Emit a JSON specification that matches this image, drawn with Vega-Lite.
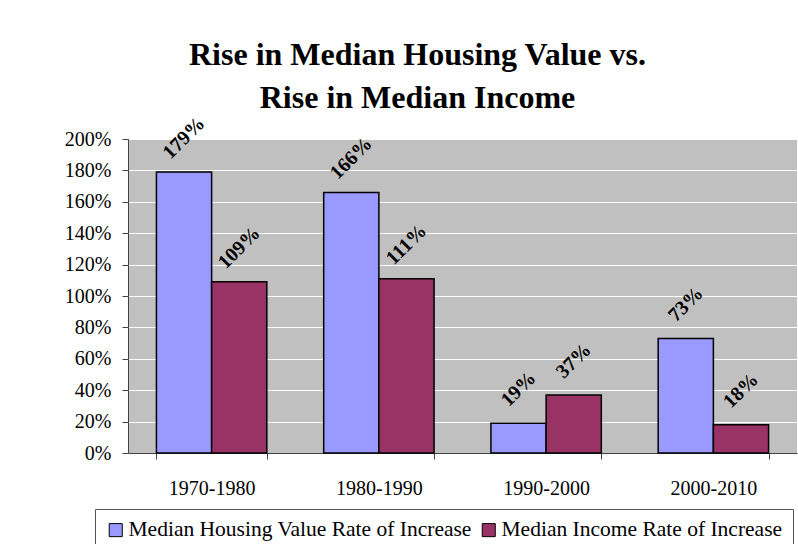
{
  "$schema": "https://vega.github.io/schema/vega-lite/v6.json",
  "autosize": {"type": "none"},
  "padding": {"left": 128, "top": 139, "right": 1, "bottom": 91},
  "width": 669,
  "height": 314,
  "background": "white",
  "title": {
    "text": ["Rise in Median Housing Value vs.", "Rise in Median Income"],
    "font": "Liberation Serif",
    "fontSize": 32,
    "fontWeight": "bold",
    "color": "black",
    "lineHeight": 43,
    "anchor": "middle",
    "frame": "group",
    "dx": -45,
    "offset": -2
  },
  "data": {
    "values": [
      {"period": "1970-1980", "series": "Median Housing Value Rate of Increase", "value": 1.79},
      {"period": "1970-1980", "series": "Median Income Rate of Increase", "value": 1.09},
      {"period": "1980-1990", "series": "Median Housing Value Rate of Increase", "value": 1.66},
      {"period": "1980-1990", "series": "Median Income Rate of Increase", "value": 1.11},
      {"period": "1990-2000", "series": "Median Housing Value Rate of Increase", "value": 0.19},
      {"period": "1990-2000", "series": "Median Income Rate of Increase", "value": 0.37},
      {"period": "2000-2010", "series": "Median Housing Value Rate of Increase", "value": 0.73},
      {"period": "2000-2010", "series": "Median Income Rate of Increase", "value": 0.18}
    ]
  },
  "encoding": {
    "x": {
      "field": "period",
      "type": "nominal",
      "title": null,
      "scale": {"paddingInner": 0.34, "paddingOuter": 0.17},
      "axis": {
        "labelAngle": 0,
        "labelFont": "Liberation Serif",
        "labelFontSize": 20,
        "labelColor": "black",
        "labelPadding": 19,
        "tickBand": "extent",
        "tickSize": 6,
        "tickColor": "#444",
        "domainColor": "#444",
        "grid": false
      }
    },
    "xOffset": {
      "field": "series",
      "type": "nominal",
      "sort": ["Median Housing Value Rate of Increase", "Median Income Rate of Increase"],
      "scale": {"paddingInner": 0, "paddingOuter": 0}
    },
    "y": {
      "field": "value",
      "type": "quantitative",
      "title": null,
      "scale": {"domain": [0, 2], "nice": false},
      "axis": {
        "values": [0, 0.2, 0.4, 0.6, 0.8, 1, 1.2, 1.4, 1.6, 1.8, 2],
        "format": ".0%",
        "labelFont": "Liberation Serif",
        "labelFontSize": 20,
        "labelColor": "black",
        "labelPadding": 11,
        "tickSize": 6,
        "tickColor": "#444",
        "domainColor": "#444",
        "gridColor": "white",
        "gridWidth": 1.2,
        "gridOpacity": 1
      }
    }
  },
  "layer": [
    {
      "mark": {"type": "bar", "stroke": "black", "strokeWidth": 1.5},
      "encoding": {
        "color": {
          "field": "series",
          "type": "nominal",
          "sort": ["Median Housing Value Rate of Increase", "Median Income Rate of Increase"],
          "scale": {
            "domain": ["Median Housing Value Rate of Increase", "Median Income Rate of Increase"],
            "range": ["#9999FF", "#993366"]
          },
          "legend": {
            "title": null,
            "orient": "none",
            "legendX": -33,
            "legendY": 370,
            "direction": "horizontal",
            "columns": 2,
            "strokeColor": "#555",
            "padding": 10,
            "symbolType": "square",
            "symbolSize": 170,
            "symbolStrokeColor": "black",
            "symbolStrokeWidth": 1,
            "symbolOpacity": 1,
            "labelFont": "Liberation Serif",
            "labelFontSize": 21.5,
            "labelColor": "black",
            "labelLimit": 500,
            "labelOffset": 2,
            "columnPadding": 6
          }
        }
      }
    },
    {
      "mark": {
        "type": "text",
        "angle": -45,
        "align": "center",
        "baseline": "middle",
        "yOffset": -34,
        "font": "Liberation Serif",
        "fontSize": 20,
        "fontWeight": "bold",
        "color": "black"
      },
      "encoding": {
        "text": {"field": "value", "type": "quantitative", "format": ".0%"}
      }
    }
  ],
  "config": {
    "view": {"fill": "#C0C0C0", "stroke": null}
  }
}
